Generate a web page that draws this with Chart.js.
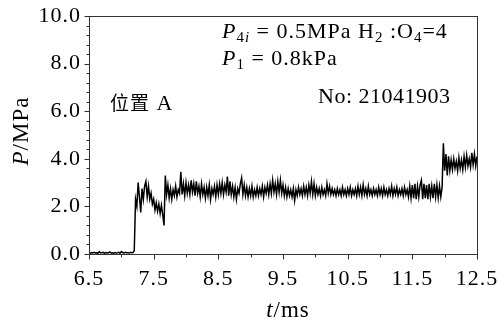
<!DOCTYPE html>
<html>
<head>
<meta charset="utf-8">
<script src="https://cdn.jsdelivr.net/npm/chart.js@4.4.1/dist/chart.umd.min.js"></script>
<style>
html, body { margin: 0; padding: 0; background: #fff; }
#wrap { width: 497px; height: 324px; position: relative; }
</style>
</head>
<body>
<div id="wrap"><canvas id="grafica"></canvas></div>
<script>
// sampling of the trace (ms)
const startTime = 6.5;
const sampleStep = 0.02;

// pressure P (MPa), one value per sample
const pressure = [
  0.05, 0.03, 0.06, 0.04, 0.07, 0.04, 0.05, 0.03, 0.10, 0.04,
  0.05, 0.07, 0.03, 0.06, 0.04, 0.05, 0.09, 0.04, 0.05, 0.03,
  0.06, 0.04, 0.05, 0.07, 0.03, 0.10, 0.06, 0.04, 0.07, 0.05,
  0.05, 0.04, 0.07, 0.05, 0.06, 0.15, 2.30, 2.00, 3.00, 2.40,
  1.75, 2.75, 2.30, 2.85, 3.05, 2.40, 2.85, 2.30, 2.55, 2.10,
  2.30, 1.85, 2.15, 1.80, 2.10, 1.70, 2.05, 1.65, 1.20, 3.30,
  2.50, 2.90, 2.35, 2.75, 2.30, 2.70, 2.45, 2.85, 2.40, 2.70,
  2.55, 3.45, 2.50, 2.95, 2.45, 3.00, 2.55, 2.90, 2.50, 3.10,
  2.60, 2.95, 2.45, 3.05, 2.55, 2.85, 2.40, 2.95, 2.50, 2.80,
  2.35, 2.80, 2.45, 2.90, 2.30, 2.75, 2.50, 2.85, 2.40, 2.90,
  2.50, 2.95, 2.55, 3.00, 2.50, 2.90, 2.60, 3.25, 2.45, 3.05,
  2.50, 2.85, 2.40, 2.80, 2.30, 2.75, 2.55, 2.95, 3.20, 2.50,
  2.90, 2.45, 2.80, 2.40, 2.75, 2.45, 2.85, 2.40, 2.70, 2.45,
  2.80, 2.45, 2.75, 2.50, 2.85, 2.40, 2.80, 2.55, 2.90, 2.50,
  2.95, 2.55, 3.10, 2.60, 2.95, 2.50, 3.05, 2.60, 3.10, 2.55,
  2.90, 2.45, 2.80, 2.40, 2.75, 2.45, 2.70, 2.40, 2.75, 2.25,
  2.70, 2.45, 2.80, 2.50, 2.75, 2.45, 2.85, 2.50, 2.80, 2.45,
  2.90, 2.55, 3.05, 2.50, 2.95, 2.45, 2.80, 2.50, 2.75, 2.45,
  2.80, 2.50, 2.70, 2.45, 2.95, 2.55, 2.85, 2.50, 2.75, 2.50,
  2.70, 2.45, 2.75, 2.50, 2.70, 2.45, 2.80, 2.50, 2.70, 2.45,
  2.75, 2.50, 2.80, 2.45, 2.70, 2.50, 2.75, 2.45, 2.85, 2.50,
  2.80, 2.45, 2.90, 2.50, 2.75, 2.45, 2.85, 2.50, 2.70, 2.45,
  2.75, 2.50, 2.70, 2.45, 2.80, 2.50, 2.75, 2.45, 2.80, 2.50,
  2.70, 2.45, 2.75, 2.50, 2.85, 2.45, 2.75, 2.50, 2.80, 2.45,
  2.70, 2.50, 2.75, 2.45, 2.80, 2.50, 2.70, 2.40, 2.85, 2.35,
  2.90, 2.35, 2.95, 2.30, 2.85, 2.40, 2.90, 3.10, 2.30, 2.95,
  2.35, 2.90, 2.30, 2.95, 2.40, 2.85, 2.35, 2.95, 2.40, 2.90,
  2.35, 2.85, 2.40, 2.80, 4.65, 3.50, 4.20, 3.30, 4.10, 3.50,
  3.95, 3.55, 4.00, 3.60, 3.90, 3.50, 4.05, 3.60, 3.95, 3.55,
  4.10, 3.65, 4.15, 3.70, 4.00, 3.65, 4.25, 3.75, 4.20, 3.70,
  4.10
];

const xTickLabels = ['6.5', '7.5', '8.5', '9.5', '10.5', '11.5', '12.5'];
const yTickLabels = ['0.0', '2.0', '4.0', '6.0', '8.0', '10.0'];

const serif = '"Liberation Serif", "Times New Roman", serif';
const cjk = '"Noto Sans CJK SC", sans-serif';

const points = pressure.map((p, i) => ({ x: +(startTime + i * sampleStep).toFixed(2), y: p }));

function drawRuns(ctx, x, y, parts) {
  for (const p of parts) {
    ctx.font = p.f;
    ctx.fillText(p.t, x, y + (p.dy || 0));
    x += ctx.measureText(p.t).width;
  }
  return x;
}
function runsWidth(ctx, parts) {
  let w = 0;
  for (const p of parts) { ctx.font = p.f; w += ctx.measureText(p.t).width; }
  return w;
}

const frame = {
  id: 'frame',
  beforeDraw(chart) {
    // computer-modern-ish wide look for the tick labels
    chart.ctx.letterSpacing = '1px';
  },
  afterDraw(chart) {
    const ctx = chart.ctx;
    const a = chart.chartArea;
    const xs = chart.scales.x, ys = chart.scales.y;
    const L = Math.round(a.left) + 0.5, R = Math.round(a.right) + 0.5;
    const T = Math.round(a.top) + 0.5, B = Math.round(a.bottom) + 0.5;
    ctx.save();
    ctx.strokeStyle = '#333';
    ctx.lineWidth = 1;
    ctx.strokeRect(L, T, R - L, B - T);

    // outward tick marks, long at labelled values
    ctx.beginPath();
    xs.ticks.forEach(t => {
      const px = Math.round(xs.getPixelForValue(t.value)) + 0.5;
      const len = xTickLabels.includes(t.value.toFixed(1)) ? 5 : 3;
      ctx.moveTo(px, B); ctx.lineTo(px, B + len);
    });
    ys.ticks.forEach(t => {
      const py = Math.round(ys.getPixelForValue(t.value)) + 0.5;
      const major = Math.abs(t.value / 2 - Math.round(t.value / 2)) < 1e-6;
      const len = major ? 5 : 3;
      ctx.moveTo(L, py); ctx.lineTo(L - len, py);
    });
    ctx.stroke();

    ctx.fillStyle = '#000';
    ctx.textBaseline = 'alphabetic';
    ctx.textAlign = 'left';
    ctx.letterSpacing = '1px';
    const it = 'italic 22px ' + serif, rm = '22px ' + serif;
    const sb = '15px ' + serif, si = 'italic 15px ' + serif;

    drawRuns(ctx, 222, 38, [
      { t: 'P', f: it }, { t: '4', f: sb, dy: 4 }, { t: 'i', f: si, dy: 4 },
      { t: ' = 0.5MPa H', f: rm }, { t: '2', f: sb, dy: 4 },
      { t: ' :O', f: rm }, { t: '4', f: sb, dy: 4 }, { t: '=4', f: rm }
    ]);
    drawRuns(ctx, 222, 65, [
      { t: 'P', f: it }, { t: '1', f: sb, dy: 4 }, { t: ' = 0.8kPa', f: rm }
    ]);
    ctx.letterSpacing = '0.5px';
    drawRuns(ctx, 318, 103, [{ t: 'No: 21041903', f: rm }]);
    ctx.letterSpacing = '1px';
    drawRuns(ctx, 110, 110, [{ t: '位置', f: '19px ' + cjk }, { t: ' A', f: rm }]);

    // axis titles
    const xt = [{ t: 't', f: 'italic 23px ' + serif }, { t: '/ms', f: '23px ' + serif }];
    drawRuns(ctx, 288 - runsWidth(ctx, xt) / 2, 317, xt);

    const yt = [{ t: 'P', f: 'italic 23px ' + serif }, { t: '/MPa', f: '23px ' + serif }];
    ctx.translate(28, 131);
    ctx.rotate(-Math.PI / 2);
    drawRuns(ctx, -runsWidth(ctx, yt) / 2, 0, yt);
    ctx.restore();
  }
};

const graph = document.querySelector('#grafica');

new Chart(graph, {
  type: 'line',
  data: {
    datasets: [{
      data: points,
      borderColor: '#000',
      borderWidth: 1.5,
      pointRadius: 0,
      tension: 0
    }]
  },
  options: {
    responsive: true,
    maintainAspectRatio: false,
    animation: false,
    layout: { padding: { top: 16, right: 20, left: 0, bottom: 0 } },
    plugins: { legend: { display: false }, tooltip: { enabled: false } },
    scales: {
      x: {
        type: 'linear',
        min: 6.5,
        max: 12.5,
        afterFit: s => { s.height = 70; s.paddingLeft = 0; s.paddingRight = 0; },
        grid: { display: false, drawTicks: false },
        border: { display: false },
        ticks: {
          stepSize: 0.5,
          autoSkip: false,
          maxRotation: 0,
          padding: 12,
          color: '#000',
          font: { family: serif, size: 22 },
          callback: v => {
            const s = Number(v).toFixed(1);
            return xTickLabels.includes(s) ? s : '';
          }
        }
      },
      y: {
        min: 0,
        max: 10,
        afterFit: s => { s.width = 89; s.paddingTop = 0; s.paddingBottom = 0; },
        grid: { display: false, drawTicks: false },
        border: { display: false },
        ticks: {
          stepSize: 0.4,
          autoSkip: false,
          padding: 8,
          color: '#000',
          font: { family: serif, size: 22 },
          callback: v => {
            const major = Math.abs(v / 2 - Math.round(v / 2)) < 1e-6;
            const s = Number(v).toFixed(1);
            return major && yTickLabels.includes(s) ? s : '';
          }
        }
      }
    }
  },
  plugins: [frame]
});
</script>
</body>
</html>
